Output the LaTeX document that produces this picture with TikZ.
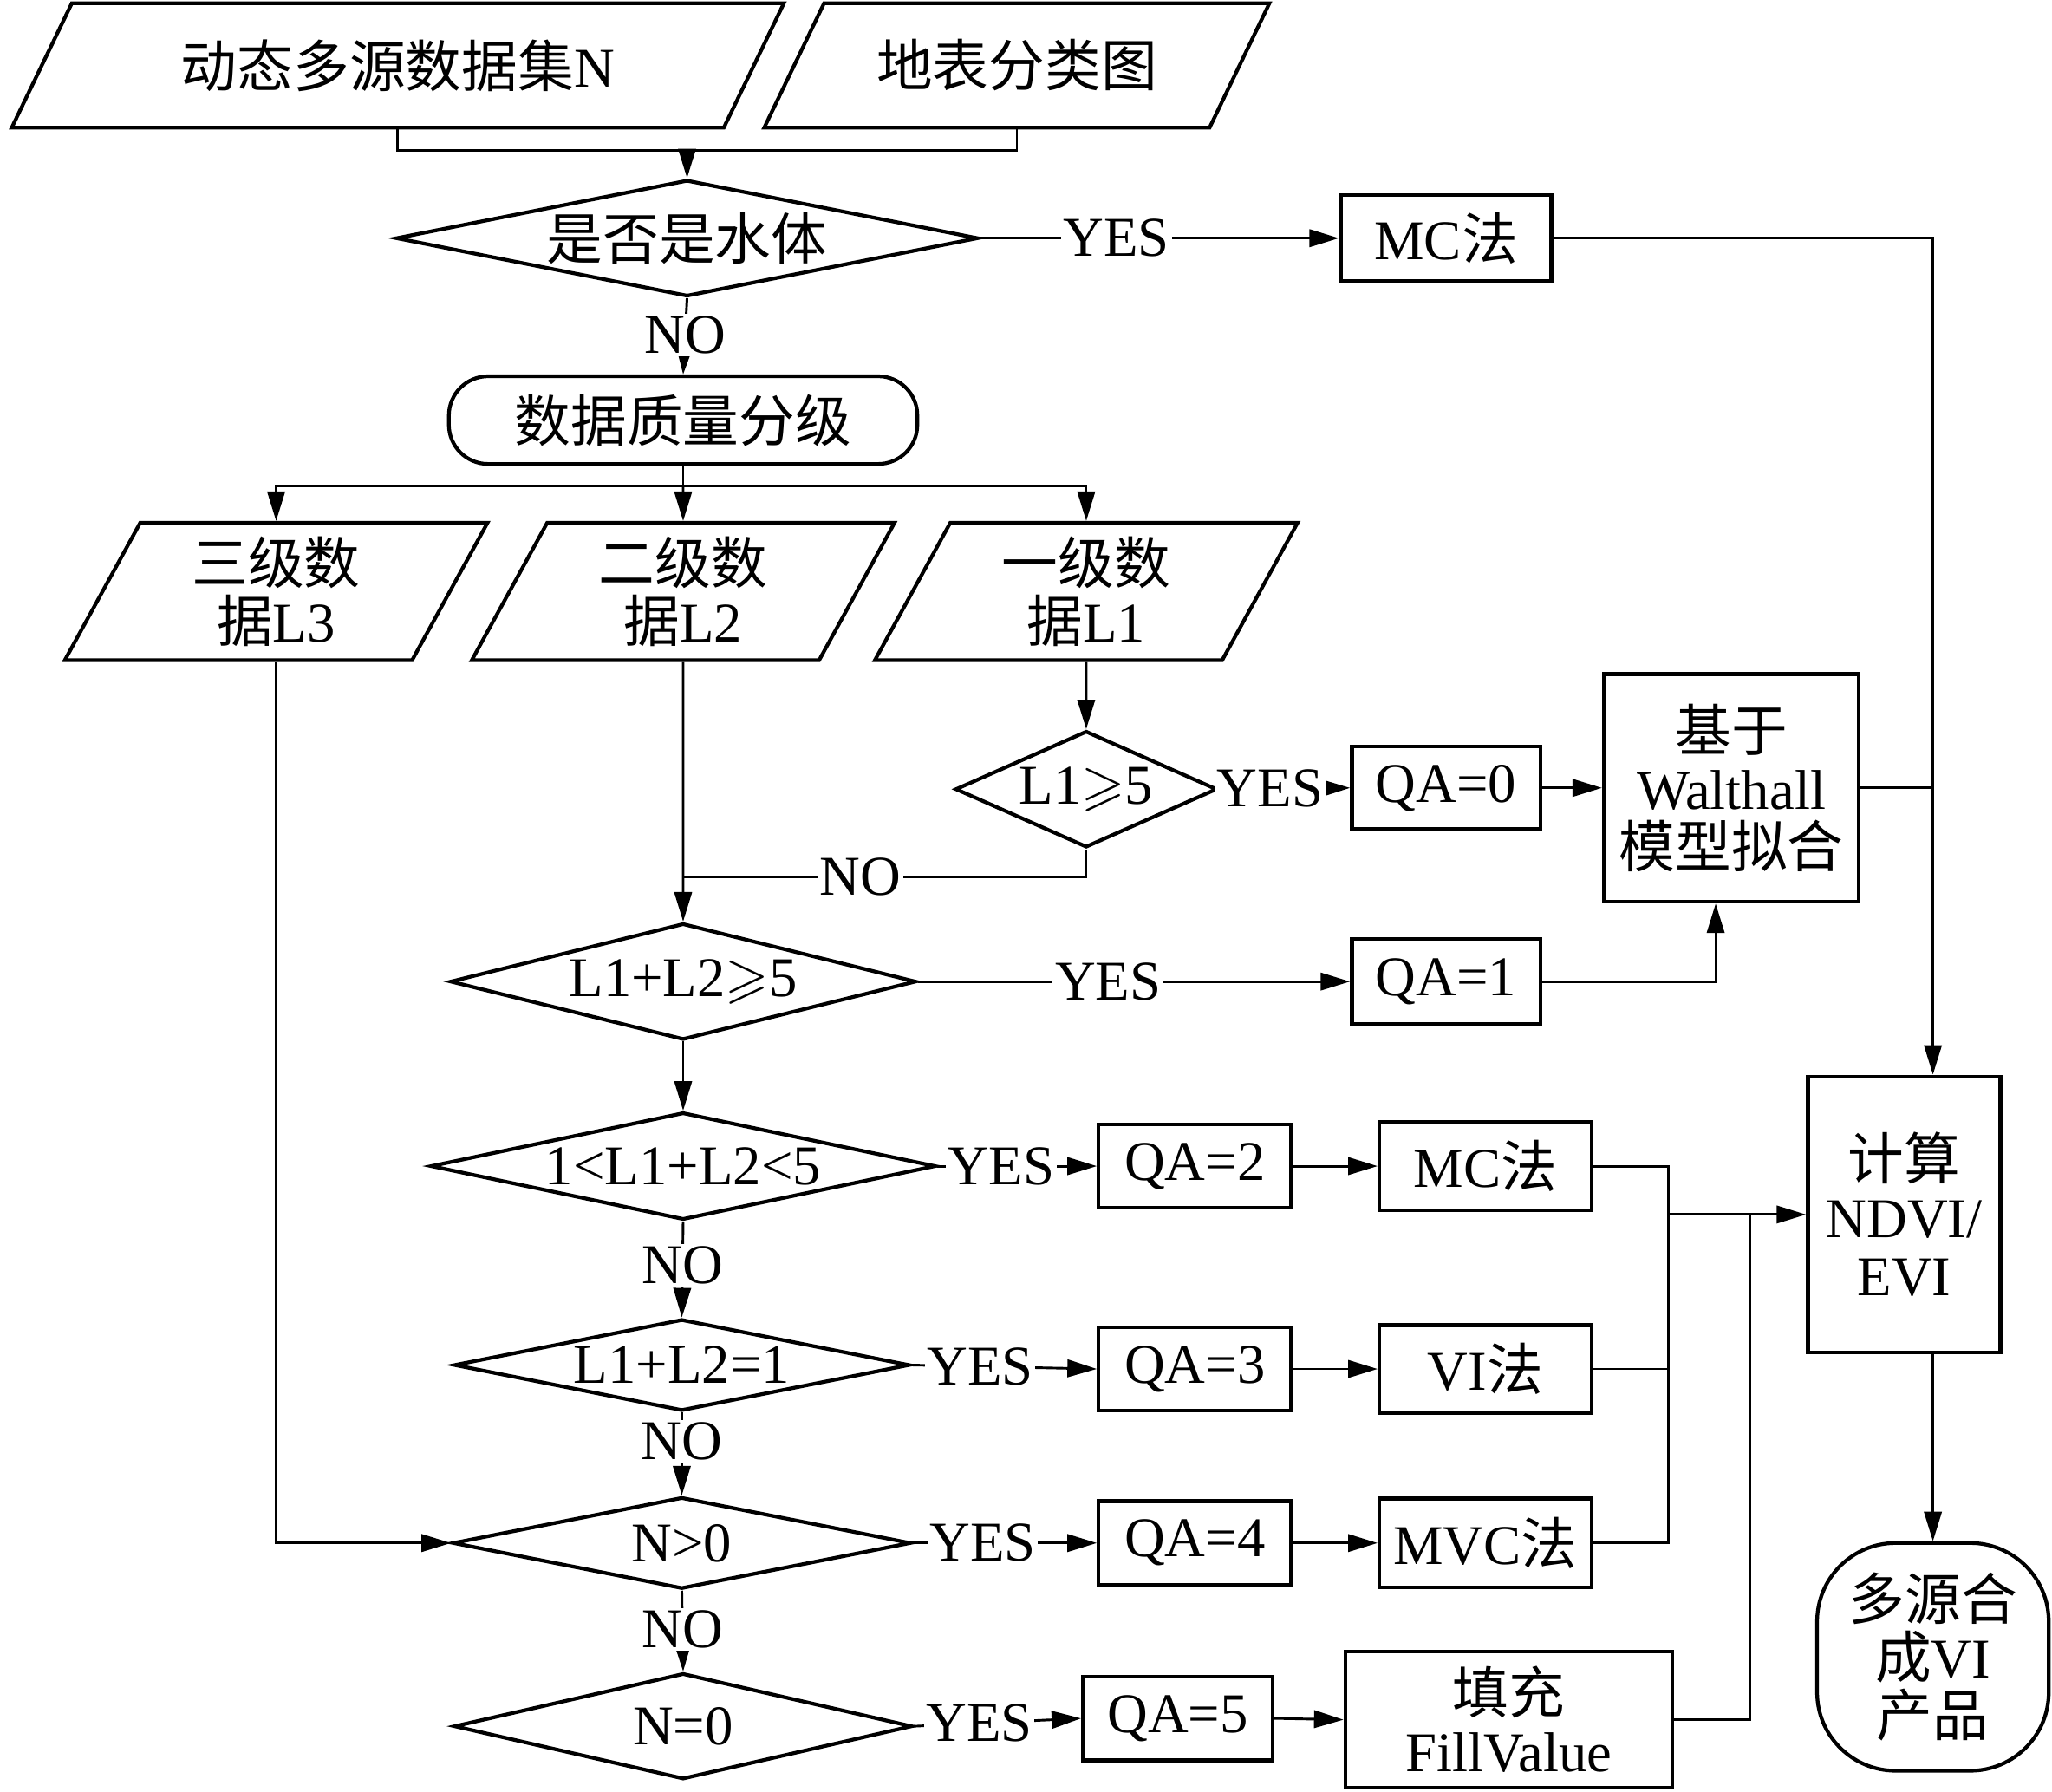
\documentclass[tikz,border=0pt]{standalone}
\usepackage{amssymb}
\usepackage{fontspec}
\setmainfont{Liberation Serif}
\newfontfamily\cjk{Noto Sans CJK SC}
\newcommand{\zh}[1]{{\cjk #1}}
\newcommand{\dtext}[1]{\makebox[0pt]{#1}}
\usetikzlibrary{arrows.meta,shapes.geometric,shapes.misc}

\begin{document}
\begin{tikzpicture}[>={Triangle[length=6.4pt,width=3.8pt]},x=0.1mm,y=-0.1mm,
	font=\fontsize{12.2}{12.6}\selectfont,line width=0.55pt,
	box/.style={draw,line width=0.8pt,rectangle,align=center,inner sep=0pt},
	datatop/.style={draw,line width=0.8pt,trapezium,trapezium left angle=40.9,trapezium right angle=139.1,trapezium stretches body,align=center,inner sep=0pt,minimum height=9.5mm},
	datalv/.style={draw,line width=0.8pt,trapezium,trapezium left angle=55.5,trapezium right angle=124.5,trapezium stretches body,align=center,inner sep=0pt,minimum height=10.5mm,minimum width=32.3mm},
	cond/.style={draw,line width=0.8pt,diamond,aspect=1,inner sep=0pt},
	term/.style={draw,line width=0.8pt,rectangle,rounded corners=#1,align=center,inner sep=0pt},
	lab/.style={fill=white,inner sep=0.5pt}]
		\useasboundingbox (0,0) rectangle (1568,1369);

		% inputs
		\node[datatop,minimum width=59mm] (dsN) at (304,50) {\zh{动态多源数据集}N};
		\node[datatop,minimum width=38.6mm] (lcm) at (777,50) {\zh{地表分类图}};
		\coordinate (mrg) at (525,115);

		\node[cond,minimum width=44.5mm,minimum height=8.9mm] (water) at (525,182) {\dtext{\zh{是否是水体}}};
		\node[box,minimum width=16.1mm,minimum height=6.6mm] (mcA) at (1105,182) {MC\zh{法}};
		\node[term=3mm,minimum width=35.8mm,minimum height=6.7mm] (grade) at (522,321) {\zh{数据质量分级}};
		\coordinate (split) at (522,371);

		% data levels
		\node[datalv] (lvThree) at (211,452) {\zh{三级数}\\\zh{据}L3};
		\node[datalv] (lvTwo) at (522,452) {\zh{二级数}\\\zh{据}L2};
		\node[datalv] (lvOne) at (830,452) {\zh{一级数}\\\zh{据}L1};

		\node[cond,minimum width=20mm,minimum height=8.9mm] (chkA) at (830,603) {\dtext{L1$\geqslant$5}};
		\node[box,minimum width=14.4mm,minimum height=6.3mm] (qaZero) at (1105,602) {QA=0};
		\node[box,minimum width=19.5mm,minimum height=17.4mm] (walt) at (1323,602) {\zh{基于}\\Walthall\\\zh{模型拟合}};
		\coordinate (joinA) at (522,670);

		\node[cond,minimum width=35.6mm,minimum height=8.9mm] (chkB) at (522,750) {\dtext{L1+L2$\geqslant$5}};
		\node[box,minimum width=14.4mm,minimum height=6.5mm] (qaOne) at (1105,750) {QA=1};

		% composites
		\node[cond,minimum width=38.6mm,minimum height=8.2mm] (chkC) at (522,891) {\dtext{1<L1+L2<5}};
		\node[box,minimum width=14.7mm,minimum height=6.4mm] (qaTwo) at (913,891) {QA=2};
		\node[box,minimum width=16.2mm,minimum height=6.8mm] (mcB) at (1135,891) {MC\zh{法}};

		\node[cond,minimum width=34.8mm,minimum height=7mm] (chkD) at (521,1043) {\dtext{L1+L2=1}};
		\node[box,minimum width=14.7mm,minimum height=6.4mm] (qaThree) at (913,1046) {QA=3};
		\node[box,minimum width=16.2mm,minimum height=6.7mm] (viB) at (1135,1046) {VI\zh{法}};

		\node[cond,minimum width=35mm,minimum height=7mm] (chkE) at (521,1179) {\dtext{N>0}};
		\node[box,minimum width=14.7mm,minimum height=6.4mm] (qaFour) at (913,1179) {QA=4};
		\node[box,minimum width=16.2mm,minimum height=6.8mm] (mvc) at (1135,1179) {MVC\zh{法}};

		\node[cond,minimum width=35mm,minimum height=8.1mm] (chkF) at (522,1319) {\dtext{N=0}};
		\node[box,minimum width=14.5mm,minimum height=6.4mm] (qaFive) at (900,1313) {QA=5};
		\node[box,minimum width=25mm,minimum height=10.4mm] (fill) at (1153,1314) {\zh{填充}\\FillValue};

		\node[box,minimum width=14.7mm,minimum height=21.1mm] (calc) at (1455,928) {\zh{计算}\\NDVI/\\EVI};
		\node[term=6mm,minimum width=17.7mm,minimum height=17.4mm] (final) at (1477,1266) {\zh{多源合}\\\zh{成}VI\\\zh{产品}};
		\coordinate (busR) at (1477,0);
		\coordinate (busL) at (1275,0);
		\coordinate (busF) at (1337,0);

		% connectors
		\draw (dsN.south) |- (mrg) -| (lcm.south);
		\draw[->] (mrg) -- (water.north);
		\draw[->] (water.east) -- node[lab,pos=0.38]{YES} (mcA.west);
		\draw[->] (water.south) -- node[lab,pos=0.48]{NO} (grade.north);
		\draw (grade.south) -- (split);
		\draw[->] (split) -| (lvThree.north);
		\draw[->] (split) -- (lvTwo.north);
		\draw[->] (split) -| (lvOne.north);

		\draw[->] (lvOne.south) -- (chkA.north);
		\draw[->] (chkA.east) -- node[lab,pos=0.39]{YES} (qaZero.west);
		\draw[->] (qaZero.east) -- (walt.west);
		\draw (chkA.south) |- node[lab,pos=0.78]{NO} (joinA);
		\draw[->] (lvTwo.south) -- (chkB.north);
		\draw[->] (chkB.east) -- node[lab,pos=0.44]{YES} (qaOne.west);
		\draw[->] (qaOne.east) -| ([xshift=-1.2mm]walt.south);
		\draw[->] (mcA.east) -| (calc.north -| busR);
		\draw (walt.east) -- (walt.east -| busR);

		\draw[->] (chkB.south) -- (chkC.north);
		\draw[->] (chkC.east) -- node[lab,pos=0.4]{YES} (qaTwo.west);
		\draw[->] (qaTwo.east) -- (mcB.west);
		\draw[->] (chkC.south) -- node[lab,pos=0.46]{NO} (chkD.north);
		\draw[->] (chkD.east) -- node[lab,pos=0.37]{YES} (qaThree.west);
		\draw[->] (qaThree.east) -- (viB.west);
		\draw[->] (chkD.south) -- node[lab,pos=0.35]{NO} (chkE.north);
		\draw[->] (chkE.east) -- node[lab,pos=0.38]{YES} (qaFour.west);
		\draw[->] (qaFour.east) -- (mvc.west);
		\draw[->] (chkE.south) -- node[lab,pos=0.48]{NO} (chkF.north);
		\draw[->] (chkF.east) -- node[lab,pos=0.39]{YES} (qaFive.west);
		\draw[->] (qaFive.east) -- (fill.west);
		\draw[->] (lvThree.south) |- (chkE.west);

		\draw (mcB.east) -| (busL |- mvc.east) -- (mvc.east);
		\draw (viB.east) -- (viB.east -| busL);
		\draw[->] (busL |- calc.west) -- (calc.west);
		\draw (fill.east) -| (busF |- calc.west);
		\draw[->] (calc.south -| final.north) -- (final.north);
	\end{tikzpicture}
\end{document}
